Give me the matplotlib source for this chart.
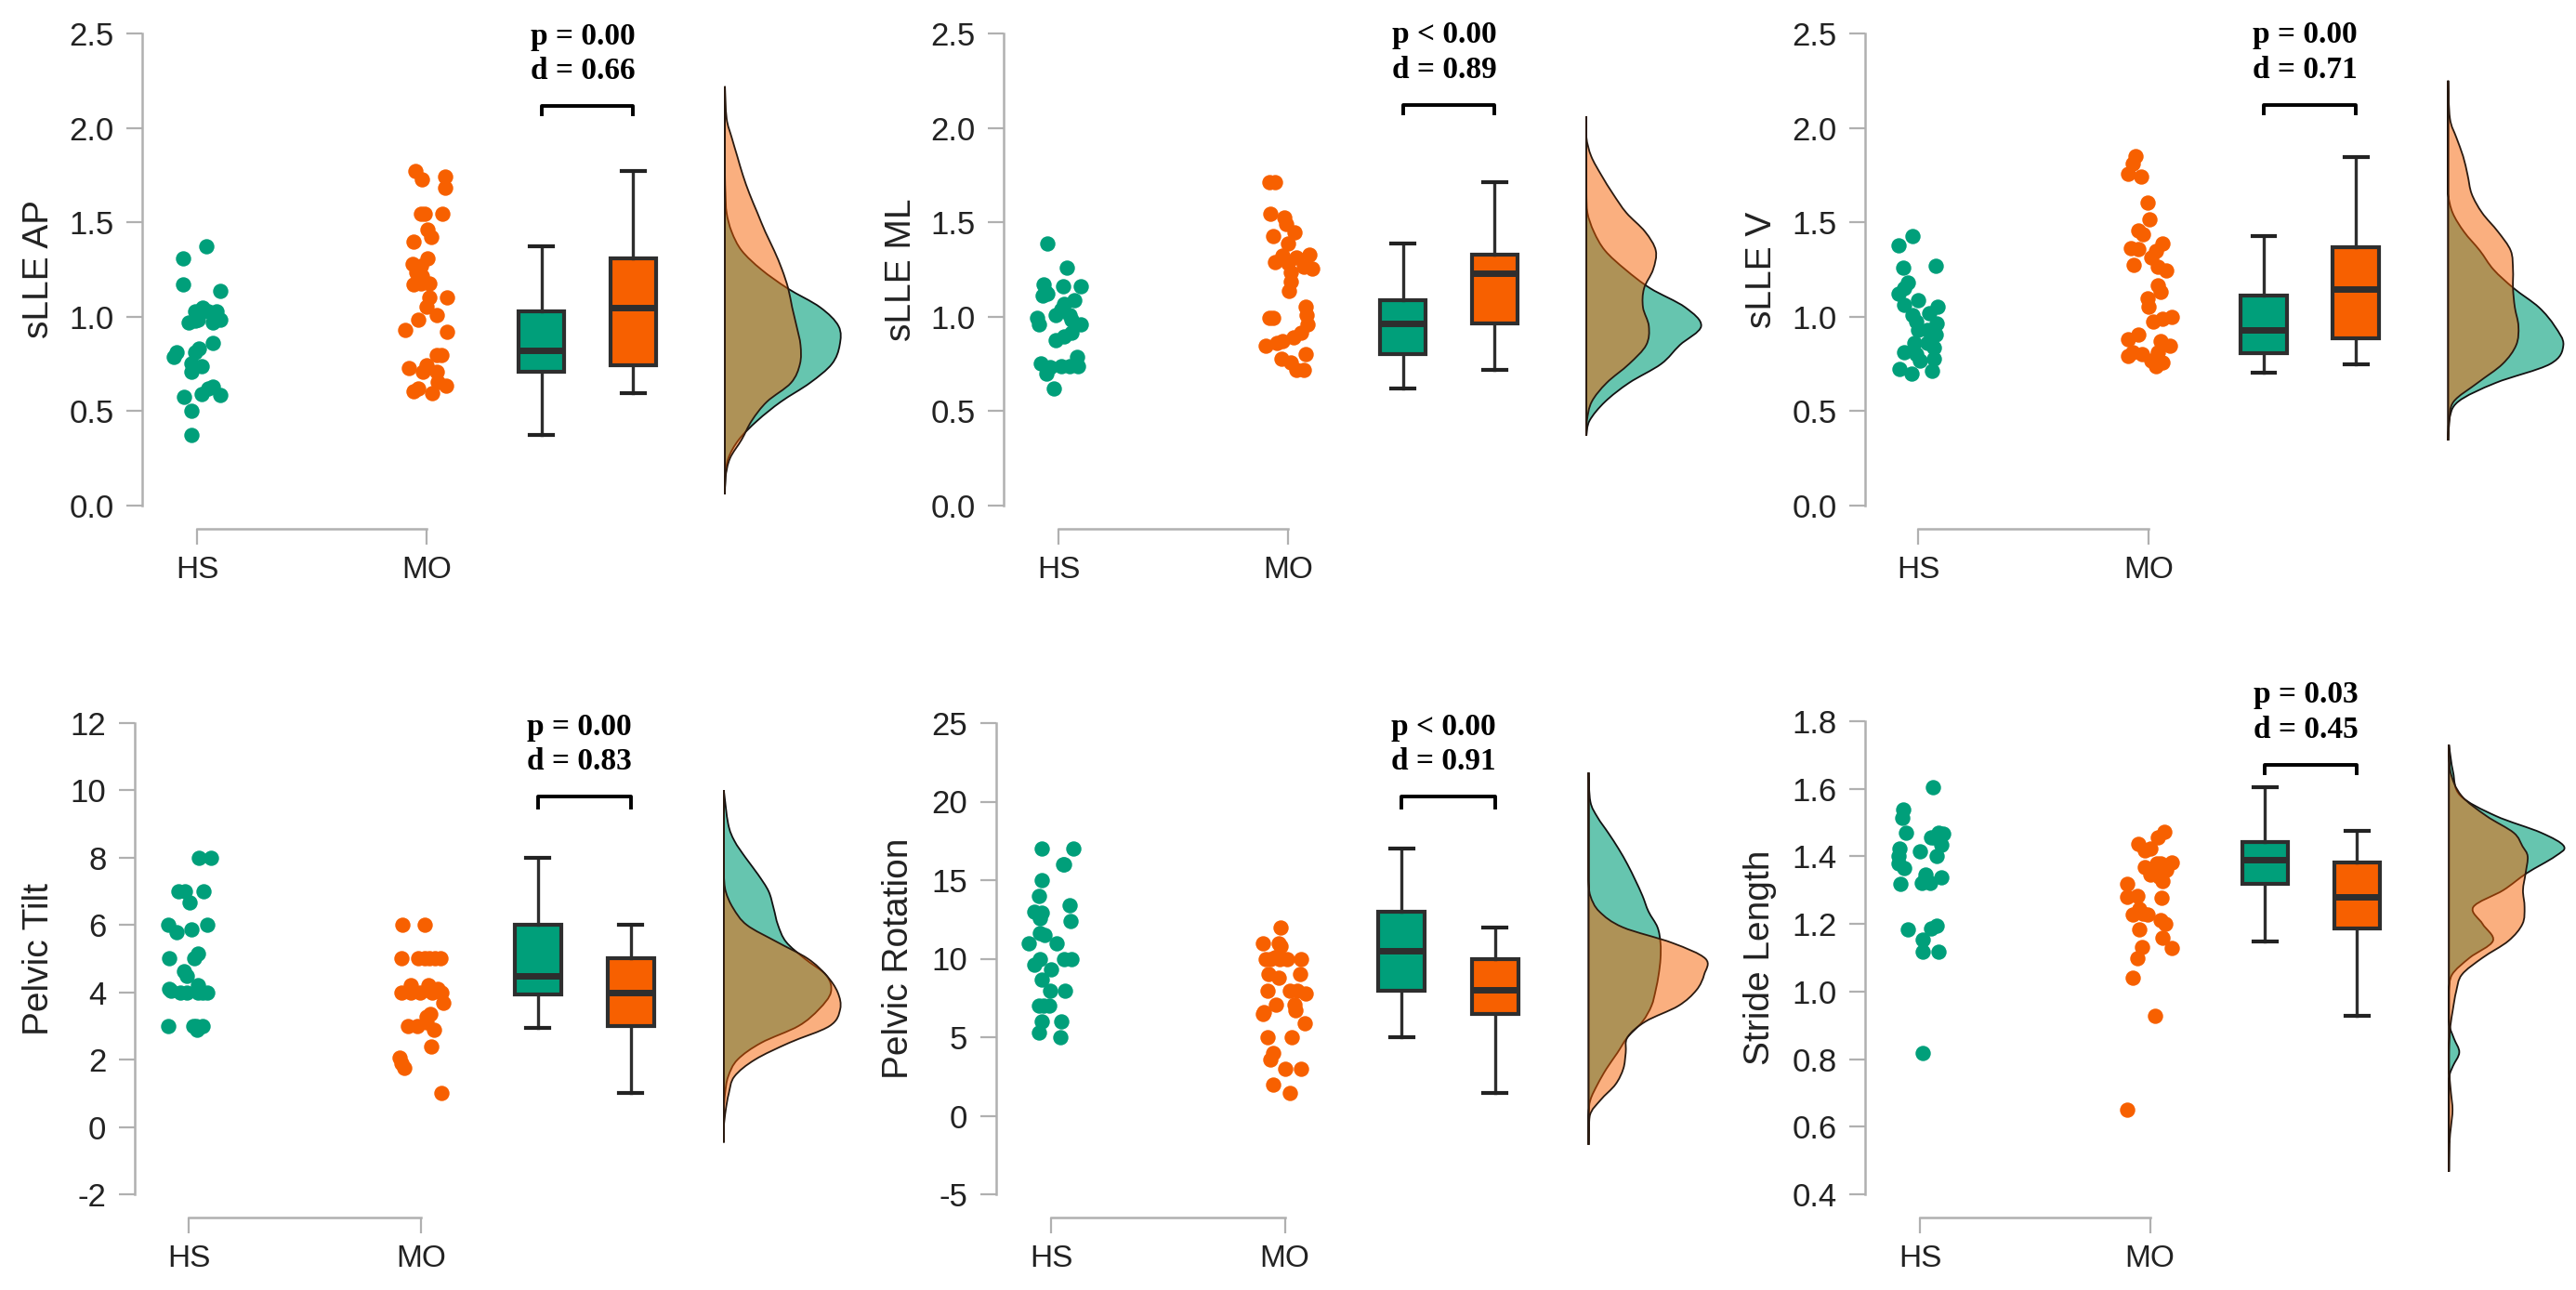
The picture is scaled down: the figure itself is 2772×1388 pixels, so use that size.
import matplotlib
matplotlib.use("Agg")
import matplotlib.pyplot as plt
from matplotlib.path import Path
from matplotlib.patches import PathPatch

plt.rcParams["font.family"] = ["Liberation Sans", "DejaVu Sans"]
plt.rcParams["axes.unicode_minus"] = False

W, H = 2772, 1388
GREEN = "#009f7a"
ORANGE = "#f76000"
GRAY = "#b0b0b0"
DARK = "#2e2e2e"

groups = ["HS", "MO"]

###############################
#            PANEL 1          #
###############################
p1_hs_val = [1.375, 1.31, 1.17, 1.135, 1.05, 1.03, 1.03, 1.03, .98, .97, .985, .985, .97, .86, .83, .81, .81, .785, .755, .74, .71, .63, .59, .575, .585, .62, .50, .375]
p1_hs_jit = [.04, -.06, -.06, .10, .025, -.01, .085, .05, -.01, -.035, .005, .10, .07, .07, .01, -.01, -.09, -.10, -.025, .02, -.025, .07, .02, -.055, .10, .05, -.025, -.025]
p1_mo_val = [1.77, 1.727, 1.744, 1.683, 1.544, 1.544, 1.544, 1.463, 1.42, 1.40, 1.31, 1.28, 1.27, 1.237, 1.215, 1.17, 1.178, 1.178, 1.10, 1.10, 1.054, 1.01, .984, .93, .918, .797, .797, .73, .743, .71, .71, .655, .637, .62, .604, .595]
p1_mo_jit = [-.05, -.02, .08, .08, -.025, -.007, .07, .005, .02, -.055, .005, -.06, -.025, -.045, -.02, -.055, -.025, .012, .012, .088, 0, .044, -.037, -.093, .09, .066, .044, -.078, 0, -.017, .044, .05, .085, -.037, -.055, .024]
p1_box_hs = [.375, .71, .82, 1.03, 1.375]
p1_box_mo = [.595, .745, 1.05, 1.31, 1.77]
p1_dens_y = [.06, .15, .25, .35, .45, .55, .65, .75, .85, .95, 1.05, 1.15, 1.25, 1.35, 1.45, 1.55, 1.65, 1.75, 1.85, 1.95, 2.05, 2.22]
p1_dens_hs = [0, 1, 6, 25, 58, 100, 152, 191, 205, 203, 170, 112, 65, 30, 12, 3, 1, 0, 0, 0, 0, 0]
p1_dens_mo = [0, 1, 9, 30, 48, 75, 118, 134, 135, 128, 120, 113, 102, 88, 72, 58, 44, 32, 22, 12, 3, 0]

###############################
#            PANEL 2          #
###############################
p2_hs_val = [1.387, 1.262, 1.16, 1.16, 1.17, 1.13, 1.11, 1.12, 1.086, 1.07, 1.04, 1.01, 1.007, .995, .96, .984, .96, .916, .894, .878, .785, .74, .753, .735, .74, .74, .70, .618]
p2_hs_jit = [-.047, .037, .098, .019, -.063, -.058, -.07, -.047, .07, .023, .012, -.012, .047, -.093, -.086, .058, .098, .058, .023, -.012, .081, .086, -.077, -.035, .012, .047, -.053, -.019]
p2_mo_val = [1.713, 1.713, 1.543, 1.527, 1.493, 1.448, 1.425, 1.39, 1.328, 1.312, 1.324, 1.29, 1.285, 1.267, 1.256, 1.233, 1.188, 1.138, 1.052, 1.007, .962, .995, .995, .916, .889, .871, .86, .844, .803, .776, .758, .717, .717]
p2_mo_jit = [-.081, -.058, -.077, -.016, -.007, .028, -.063, 0, .093, .035, -.023, -.058, 0, .07, .105, .012, .012, .005, .077, .081, .086, -.081, -.063, .058, .023, -.023, -.047, -.098, .077, -.03, .012, .035, .07]
p2_box_hs = [.618, .803, .966, 1.086, 1.387]
p2_box_mo = [.717, .966, 1.228, 1.33, 1.713]
p2_dens_y = [.37, .45, .55, .65, .75, .85, .95, 1.05, 1.15, 1.25, 1.35, 1.45, 1.55, 1.65, 1.75, 1.85, 1.95, 2.06]
p2_dens_hs = [0, 6, 35, 80, 140, 175, 215, 185, 120, 73, 35, 14, 2, 0, 0, 0, 0, 0]
p2_dens_mo = [0, 1, 10, 38, 80, 112, 117, 106, 108, 125, 130, 110, 75, 50, 28, 9, 0, 0]

###############################
#            PANEL 3          #
###############################
p3_hs_val = [1.428, 1.38, 1.26, 1.27, 1.183, 1.154, 1.12, 1.063, 1.086, 1.052, 1.018, 1.007, .973, .966, .928, .928, .905, .86, .814, .86, .837, .803, .769, .78, .724, .701, .713]
p3_hs_jit = [-.024, -.085, -.063, .075, -.044, -.06, -.083, -.06, 0, .083, .05, -.024, -.01, .079, 0, .04, .075, -.016, -.06, .04, .069, -.01, .01, .069, -.079, -.03, .06]
p3_mo_val = [1.848, 1.81, 1.758, 1.742, 1.606, 1.516, 1.459, 1.437, 1.387, 1.362, 1.357, 1.346, 1.274, 1.312, 1.267, 1.244, 1.165, 1.131, 1.097, 1.052, 1.0, .989, .973, .905, .882, .871, .844, .814, .803, .814, .792, .769, .758, .74]
p3_mo_jit = [-.056, -.067, -.087, -.034, -.004, .004, -.044, -.024, .062, -.077, -.044, .032, -.063, .012, .042, .075, .042, .052, -.004, .002, .101, .062, .022, -.044, -.087, .052, .091, -.067, -.028, .042, -.087, .012, .062, .032]
p3_box_hs = [.706, .808, .932, 1.11, 1.428]
p3_box_mo = [.747, .887, 1.147, 1.369, 1.844]
p3_dens_y = [.345, .45, .55, .65, .75, .85, .95, 1.05, 1.15, 1.25, 1.35, 1.45, 1.55, 1.65, 1.75, 1.85, 1.95, 2.05, 2.25]
p3_dens_hs = [0, 2, 22, 105, 225, 254, 235, 200, 145, 100, 70, 35, 10, 0, 0, 0, 0, 0, 0]
p3_dens_mo = [0, 3, 12, 65, 120, 150, 155, 147, 143, 143, 138, 110, 75, 52, 43, 33, 18, 4, 0]

###############################
#            PANEL 4          #
###############################
p4_hs_val = [8, 8, 7, 7, 7, 6.66, 6, 5.8, 5.88, 6, 5, 5.15, 5, 4.62, 4.48, 4.04, 4, 4, 4.2, 4, 4, 3, 3, 3, 2.9, 3, 4.1, 4]
p4_hs_jit = [.045, .094, -.043, -.016, .064, .005, -.088, -.053, .013, .078, -.083, .04, .024, -.021, -.008, -.075, -.035, -.008, .04, .04, .078, -.088, .019, .059, .035, .03, -.083, .06]
p4_mo_val = [6, 6, 5, 5, 5, 5, 5, 4.2, 4.2, 4, 4, 4, 4, 4, 3.68, 3.37, 3.27, 3, 3, 3.1, 2.9, 2.38, 2.05, 1.88, 1.75, 1.0, 5, 4.1]
p4_mo_jit = [-.083, .013, -.086, -.013, .035, .083, .058, -.045, .029, -.086, -.045, -.005, .048, .088, .096, .04, .021, -.059, -.019, .021, .056, .043, -.094, -.086, -.072, .088, .013, .07]
p4_box_hs = [2.95, 3.95, 4.5, 6, 8]
p4_box_mo = [1, 3, 4, 5, 6]
p4_dens_y = [-.46, 0, .5, 1, 1.5, 2, 2.5, 3, 3.5, 4, 4.5, 5, 5.5, 6, 6.5, 7, 7.5, 8, 8.5, 9, 10]
p4_dens_hs = [0, 0, 0, 2, 7, 22, 60, 120, 153, 172, 165, 130, 100, 87, 80, 72, 55, 35, 17, 7, 0]
p4_dens_mo = [0, 0, 3, 8, 17, 50, 105, 170, 187, 183, 165, 135, 85, 37, 15, 3, 0, 0, 0, 0, 0]

###############################
#            PANEL 5          #
###############################
p5_hs_val = [17, 17, 16, 15, 14, 13.4, 13, 12.9, 12.6, 12.4, 11.6, 11.5, 11, 11, 10, 10, 10, 9.6, 9.3, 8.65, 7.95, 7.95, 7, 7, 6, 6, 5.3, 5, 7, 16]
p5_hs_jit = [-.038, .094, .056, -.04, -.053, .079, -.071, -.038, -.046, .084, -.046, -.028, -.096, .025, -.046, .056, .089, -.071, 0, -.04, -.005, .058, -.053, -.008, -.038, .043, -.053, .041, -.03, .05]
p5_mo_val = [12, 11, 11, 10.8, 10, 10, 10.1, 10, 9, 8.8, 9, 7.95, 7.95, 7.95, 7.8, 7.1, 7.1, 6.7, 6.5, 5.9, 5, 5, 4, 3.6, 3, 3, 2, 1.45, 10, 10, 6.6]
p5_mo_jit = [-.018, -.094, -.025, -.018, .071, -.081, -.043, .008, -.069, -.025, .066, -.074, .02, .053, .089, -.036, .041, .046, -.094, .084, -.074, .028, -.048, -.063, 0, .071, -.051, .02, -.06, -.02, -.09]
p5_box_hs = [5, 7.95, 10.5, 13, 17]
p5_box_mo = [1.45, 6.5, 8, 10, 12]
p5_dens_y = [-1.85, 0, 1, 2, 3, 4, 5, 6, 7, 8, 9, 10, 11, 12, 13, 14, 15, 16, 17, 18, 19, 20, 21.85]
p5_dens_hs = [0, 0, 3, 15, 30, 48, 65, 90, 105, 112, 117, 120, 120, 115, 100, 90, 78, 65, 50, 33, 15, 3, 0]
p5_dens_mo = [0, 2, 20, 45, 58, 62, 65, 95, 150, 180, 193, 195, 140, 57, 18, 3, 0, 0, 0, 0, 0, 0, 0]

###############################
#            PANEL 6          #
###############################
p6_hs_val = [1.604, 1.54, 1.513, 1.47, 1.466, 1.457, 1.434, 1.423, 1.40, 1.414, 1.40, 1.378, 1.365, 1.345, 1.339, 1.32, 1.322, 1.322, 1.183, 1.196, 1.186, 1.155, 1.119, 1.119, .819, 1.47, 1.457, 1.33]
p6_hs_jit = [.056, -.072, -.076, -.061, .103, .047, .092, -.087, -.092, 0, .074, -.092, -.07, .025, .092, -.083, .007, .043, -.054, .074, .047, .013, .013, .081, .011, .08, .06, .02]
p6_mo_val = [1.473, 1.457, 1.437, 1.423, 1.418, 1.381, 1.367, 1.378, 1.345, 1.328, 1.32, 1.28, 1.283, 1.278, 1.244, 1.227, 1.227, 1.211, 1.2, 1.183, 1.16, 1.132, 1.13, 1.099, 1.04, .929, .649, 1.38, 1.36, 1.34, 1.23]
p6_mo_jit = [.061, .034, -.052, 0, -.022, .096, -.022, .045, 0, .056, -.101, -.101, -.056, .052, -.045, -.074, -.011, .045, .067, -.045, .056, -.034, .096, -.056, -.074, .022, -.101, .03, .07, .04, -.03]
p6_box_hs = [1.149, 1.318, 1.39, 1.443, 1.604]
p6_box_mo = [.929, 1.188, 1.28, 1.381, 1.475]
p6_dens_y = [.467, .55, .6, .65, .7, .75, .78, .82, .86, .9, .95, 1.0, 1.05, 1.1, 1.15, 1.2, 1.25, 1.3, 1.35, 1.4, 1.43, 1.47, 1.52, 1.58, 1.65, 1.73]
p6_dens_hs = [0, 0, 0, 0, 0, 1, 8, 20, 10, 1, 0, 0, 6, 40, 85, 65, 47, 105, 150, 205, 222, 178, 90, 22, 8, 0]
p6_dens_mo = [0, 1, 4, 7, 4, 1, 0, 0, 1, 3, 8, 14, 25, 65, 115, 142, 146, 143, 148, 152, 142, 125, 72, 24, 3, 0]

ylabels = ["sLLE AP", "sLLE ML", "sLLE V", "Pelvic Tilt", "Pelvic Rotation", "Stride Length"]
yticks = [
    [0.0, 0.5, 1.0, 1.5, 2.0, 2.5],
    [0.0, 0.5, 1.0, 1.5, 2.0, 2.5],
    [0.0, 0.5, 1.0, 1.5, 2.0, 2.5],
    [-2, 0, 2, 4, 6, 8, 10, 12],
    [-5, 0, 5, 10, 15, 20, 25],
    [0.4, 0.6, 0.8, 1.0, 1.2, 1.4, 1.6, 1.8],
]
ytick_labels = [
    ["0.0", "0.5", "1.0", "1.5", "2.0", "2.5"],
    ["0.0", "0.5", "1.0", "1.5", "2.0", "2.5"],
    ["0.0", "0.5", "1.0", "1.5", "2.0", "2.5"],
    ["-2", "0", "2", "4", "6", "8", "10", "12"],
    ["-5", "0", "5", "10", "15", "20", "25"],
    ["0.4", "0.6", "0.8", "1.0", "1.2", "1.4", "1.6", "1.8"],
]
p_texts = ["p = 0.00", "p < 0.00", "p = 0.00", "p = 0.00", "p < 0.00", "p = 0.03"]
d_texts = ["d = 0.66", "d = 0.89", "d = 0.71", "d = 0.83", "d = 0.91", "d = 0.45"]
bracket_top = [2.115, 2.122, 2.122, 9.81, 20.3, 1.672]
bracket_low = [2.07, 2.075, 2.075, 9.48, 19.6, 1.647]

# pixel layout: axis line x, HS x, MO x, top tick y, bottom tick y, ylabel x
layout = [
    (153, 212, 459, 36, 544, 60),
    (1080, 1139, 1386, 36, 544, 988),
    (2007, 2064, 2312, 36, 544, 1914),
    (145, 203, 453.4, 778, 1285, 60),
    (1072, 1131, 1382.5, 778, 1285, 985),
    (2007, 2066, 2313.5, 776, 1285, 1912),
]

BOX_X = [2.5, 2.9]
DENS_X = 3.3
DENS_W = 0.5


def stats_from(box):
    return {"whislo": box[0], "q1": box[1], "med": box[2], "q3": box[3], "whishi": box[4], "fliers": []}


def density_patch(ys, widths, peak, **kw):
    # curve through the read points, bezier handles so it isn't a polygon
    xs = [DENS_X + DENS_W * v / peak for v in widths]
    verts = [(DENS_X, ys[0]), (xs[0], ys[0])]
    codes = [Path.MOVETO, Path.LINETO]
    n = len(xs)
    for k in range(n - 1):
        a = max(k - 1, 0)
        b = min(k + 2, n - 1)
        c1 = (xs[k] + (xs[k + 1] - xs[a]) / 6, ys[k] + (ys[k + 1] - ys[a]) / 6)
        c2 = (xs[k + 1] - (xs[b] - xs[k]) / 6, ys[k + 1] - (ys[b] - ys[k]) / 6)
        c1 = (max(c1[0], DENS_X), c1[1])
        c2 = (max(c2[0], DENS_X), c2[1])
        verts += [c1, c2, (xs[k + 1], ys[k + 1])]
        codes += [Path.CURVE4] * 3
    verts += [(DENS_X, ys[-1]), (DENS_X, ys[0])]
    codes += [Path.LINETO, Path.CLOSEPOLY]
    return PathPatch(Path(verts, codes), clip_on=False, zorder=2, **kw)


panels = [
    (p1_hs_val, p1_hs_jit, p1_mo_val, p1_mo_jit, p1_box_hs, p1_box_mo, p1_dens_y, p1_dens_hs, p1_dens_mo),
    (p2_hs_val, p2_hs_jit, p2_mo_val, p2_mo_jit, p2_box_hs, p2_box_mo, p2_dens_y, p2_dens_hs, p2_dens_mo),
    (p3_hs_val, p3_hs_jit, p3_mo_val, p3_mo_jit, p3_box_hs, p3_box_mo, p3_dens_y, p3_dens_hs, p3_dens_mo),
    (p4_hs_val, p4_hs_jit, p4_mo_val, p4_mo_jit, p4_box_hs, p4_box_mo, p4_dens_y, p4_dens_hs, p4_dens_mo),
    (p5_hs_val, p5_hs_jit, p5_mo_val, p5_mo_jit, p5_box_hs, p5_box_mo, p5_dens_y, p5_dens_hs, p5_dens_mo),
    (p6_hs_val, p6_hs_jit, p6_mo_val, p6_mo_jit, p6_box_hs, p6_box_mo, p6_dens_y, p6_dens_hs, p6_dens_mo),
]

fig = plt.figure(figsize=(W / 100, H / 100), dpi=100, facecolor="white")

for i, data in enumerate(panels):
    hs_val, hs_jit, mo_val, mo_jit, box_hs, box_mo, dens_y, dens_hs, dens_mo = data
    ax_px, hs_px, mo_px, top_px, bot_px, lab_px = layout[i]
    unit = mo_px - hs_px
    right_px = hs_px + 2.85 * unit

    ax = fig.add_axes([ax_px / W, 1 - bot_px / H, (right_px - ax_px) / W, (bot_px - top_px) / H])
    ax.patch.set_alpha(0)
    ax.set_xlim(1 - (hs_px - ax_px) / unit, 3.85)
    ax.set_ylim(yticks[i][0], yticks[i][-1])

    # strips
    ax.scatter([1 + j for j in hs_jit], hs_val, s=140, color=GREEN, linewidths=0, clip_on=False, zorder=3)
    ax.scatter([2 + j for j in mo_jit], mo_val, s=140, color=ORANGE, linewidths=0, clip_on=False, zorder=3)

    # boxes
    boxes = ax.bxp([stats_from(box_hs), stats_from(box_mo)], positions=BOX_X, widths=0.2, capwidths=0.1,
                   patch_artist=True, showfliers=False, manage_ticks=False,
                   boxprops={"linewidth": 3.0, "edgecolor": DARK},
                   medianprops={"linewidth": 5.0, "color": DARK, "solid_capstyle": "butt"},
                   whiskerprops={"linewidth": 2.4, "color": DARK},
                   capprops={"linewidth": 3.0, "color": "#222222"})
    for patch, col in zip(boxes["boxes"], [GREEN, ORANGE]):
        patch.set_facecolor(col)
    for art in boxes["boxes"] + boxes["medians"] + boxes["whiskers"] + boxes["caps"]:
        art.set_clip_on(False)

    # densities
    peak = max(max(dens_hs), max(dens_mo))
    ax.add_patch(density_patch(dens_y, dens_hs, peak, facecolor=(0, 159 / 255, 122 / 255, 0.6),
                               edgecolor="#111111", linewidth=1.3))
    ax.add_patch(density_patch(dens_y, dens_mo, peak, facecolor=(247 / 255, 96 / 255, 0, 0.5),
                               edgecolor="#2a1a10", linewidth=1.3))

    # bracket and stats
    ax.plot([BOX_X[0], BOX_X[0], BOX_X[1], BOX_X[1]], [bracket_low[i], bracket_top[i], bracket_top[i], bracket_low[i]],
            color="black", linewidth=2.8, solid_joinstyle="round", clip_on=False, zorder=4)
    mid = sum(BOX_X) / 2
    ax.annotate(p_texts[i], (mid, bracket_top[i]), xytext=(-3.6, 54), textcoords="offset points", ha="center",
                va="center", fontsize=24, fontweight="bold", family="Liberation Serif", annotation_clip=False)
    ax.annotate(d_texts[i], (mid, bracket_top[i]), xytext=(-3.6, 27), textcoords="offset points", ha="center",
                va="center", fontsize=24, fontweight="bold", family="Liberation Serif", annotation_clip=False)

    # axes
    for side in ["top", "right"]:
        ax.spines[side].set_visible(False)
    ax.spines["left"].set_color(GRAY)
    ax.spines["left"].set_linewidth(1.8)
    ax.spines["bottom"].set_color(GRAY)
    ax.spines["bottom"].set_linewidth(1.8)
    ax.spines["bottom"].set_position(("outward", 18))
    ax.spines["bottom"].set_bounds(1, 2)
    ax.set_xticks([1, 2], groups)
    ax.set_yticks(yticks[i], ytick_labels[i])
    ax.tick_params(axis="y", length=12, width=1.6, color=GRAY, labelsize=25, labelcolor="#222222", pad=10)
    ax.tick_params(axis="x", length=12, width=1.6, color=GRAY, labelsize=24, labelcolor="#222222", pad=9)
    ax.set_ylabel(ylabels[i], fontsize=28, color="#222222")
    ax.yaxis.set_label_coords((lab_px - ax_px) / (right_px - ax_px), 0.5)

fig.savefig("out.png", dpi=100)
